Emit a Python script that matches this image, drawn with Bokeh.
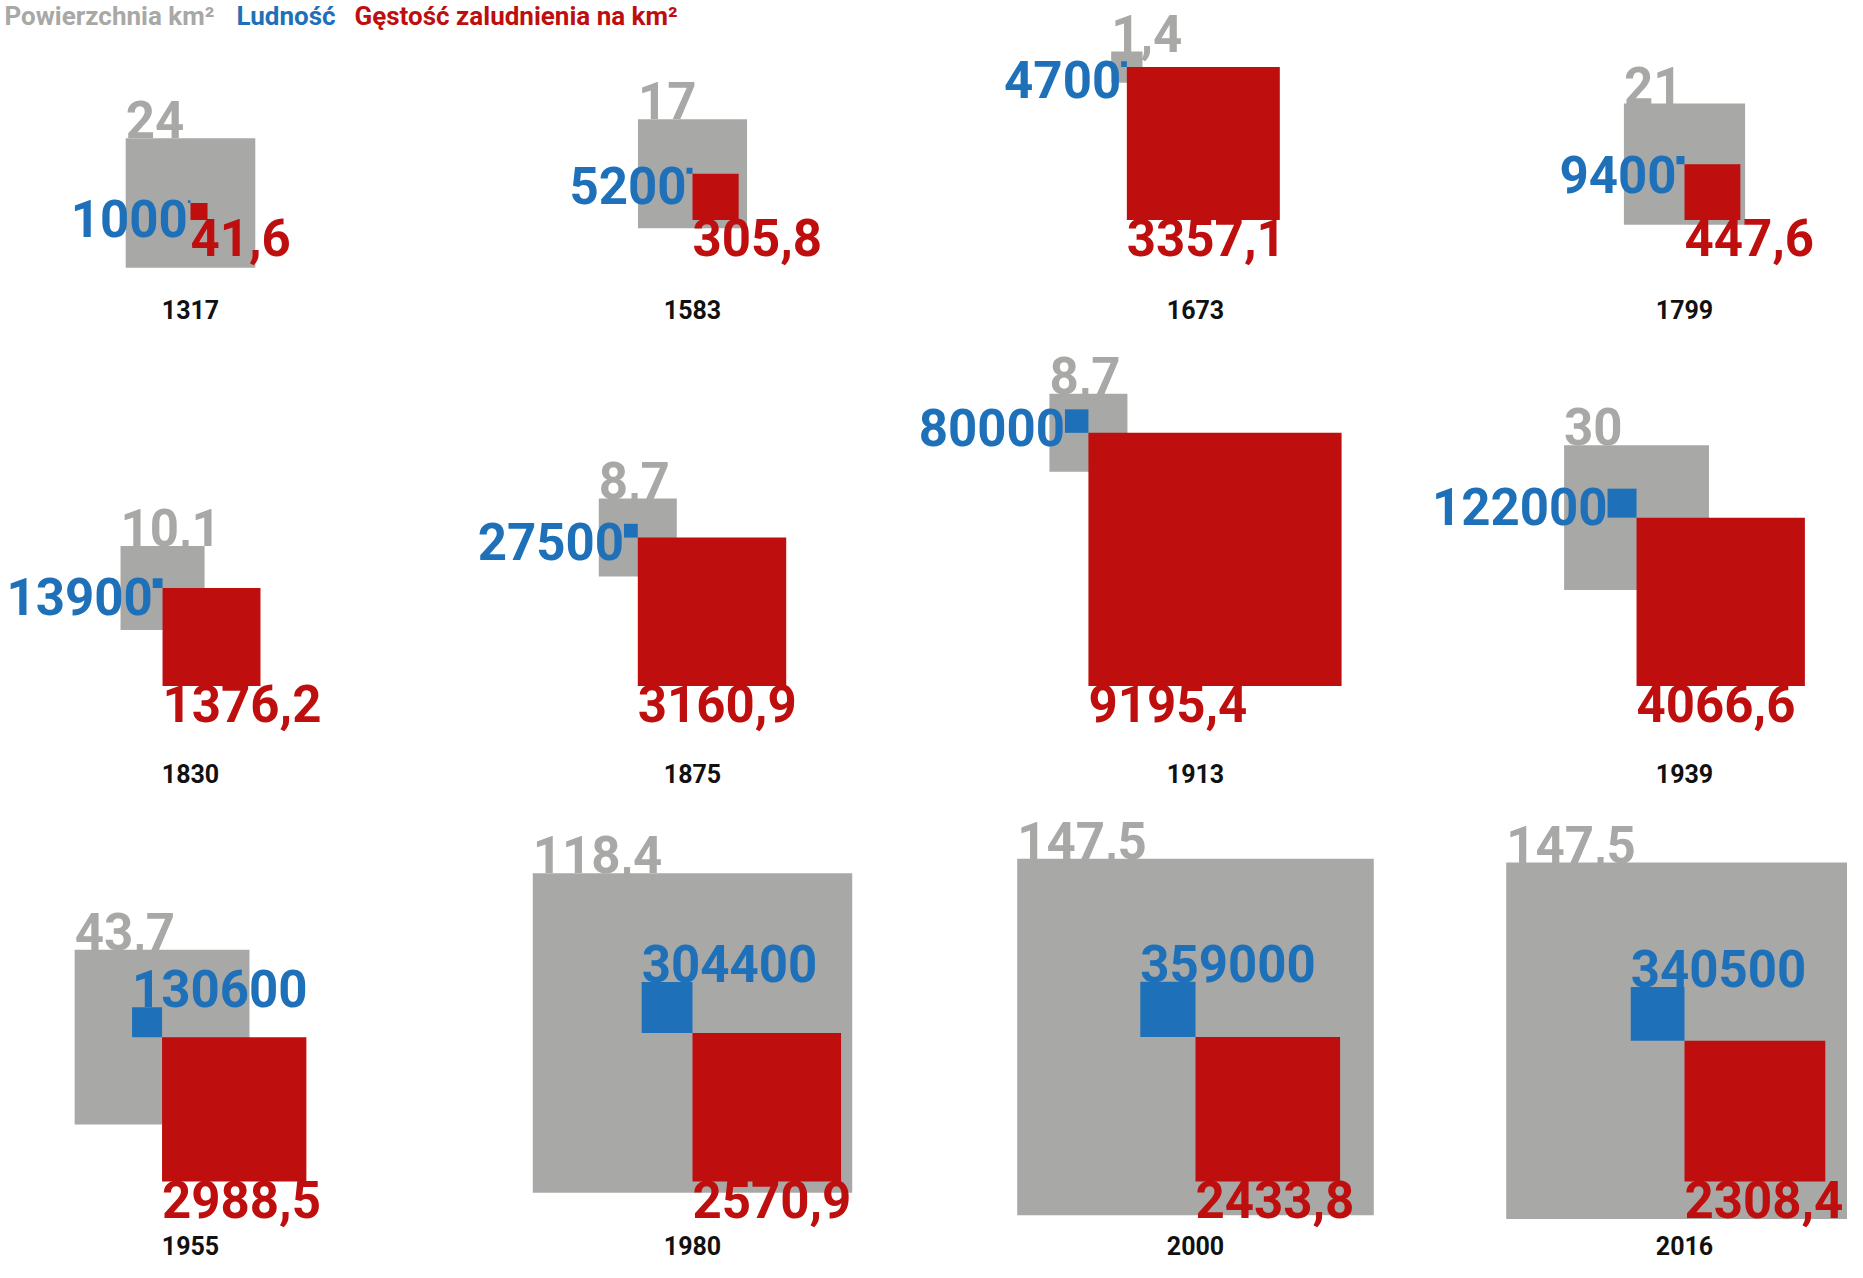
import math
from bokeh.plotting import figure
from bokeh.models import ColumnDataSource, Range1d
from bokeh.core.properties import value
from bokeh.embed import file_html
from bokeh.resources import INLINE

# ---------------- data ----------------
years = ["1317", "1583", "1673", "1799", "1830", "1875", "1913", "1939",
         "1955", "1980", "2000", "2016"]
area_km2 = [24, 17, 1.4, 21, 10.1, 8.7, 8.7, 30, 43.7, 118.4, 147.5, 147.5]
population = [1000, 5200, 4700, 9400, 13900, 27500, 80000, 122000,
              130600, 304400, 359000, 340500]
density = [41.6, 305.8, 3357.1, 447.6, 1376.2, 3160.9, 9195.4, 4066.6,
           2988.5, 2570.9, 2433.8, 2308.4]
area_labels = ["24", "17", "1,4", "21", "10,1", "8,7", "8,7", "30",
               "43,7", "118,4", "147,5", "147,5"]
population_labels = ["1000", "5200", "4700", "9400", "13900", "27500", "80000",
                     "122000", "130600", "304400", "359000", "340500"]
density_labels = ["41,6", "305,8", "3357,1", "447,6", "1376,2", "3160,9",
                  "9195,4", "4066,6", "2988,5", "2570,9", "2433,8", "2308,4"]
legend_labels = ["Powierzchnia km²", "Ludność", "Gęstość zaludnienia na km²"]

# ---------------- styles / layout ----------------
GRAY = "#a8a8a7"
BLUE = "#1e71b9"
RED = "#be0e0e"
BLACK = "#111111"
FONT = "Roboto"
VAL_SIZE = 51
YEAR_SIZE = 25
LEG_SIZE = 26
CAP = 0.711
BASE_FIX = 0.36     # renderer baseline correction (fraction of font size)

K_AREA = 26.45     # px per sqrt(km2)
K_POP = 0.083      # px per sqrt(person)
K_DENS = 2.64      # px per sqrt(person/km2)
panel_scale = [1.0] * 9 + [1.11] * 3
blue_above = [False] * 8 + [True] * 4
col_center = [190, 692, 1195, 1684]
row_base = [219.5, 685.5, 1181]
row_year = [309, 773, 1245]
legend_x = [4, 236, 354]
legend_baseline = 25


def ty(baseline, size):
    return baseline - BASE_FIX * size


# ---------------- geometry from values ----------------
g_l, g_r, g_t, g_b = [], [], [], []
b_l, b_r, b_t, b_b = [], [], [], []
r_l, r_r, r_t, r_b = [], [], [], []
ga_x, ga_y = [], []
bl_x, bl_y, bl_align = [], [], []
rl_x, rl_y = [], []
yr_x, yr_y = [], []

for i in range(len(years)):
    row, col = divmod(i, 4)
    s = panel_scale[i]
    g = K_AREA * s * math.sqrt(area_km2[i])
    b = K_POP * s * math.sqrt(population[i])
    r = K_DENS * s * math.sqrt(density[i])
    left_ext = max(g / 2, b)
    right_ext = max(g / 2, r)
    ax = col_center[col] - (right_ext - left_ext) / 2
    ay = row_base[row] - r

    g_l.append(ax - g / 2); g_r.append(ax + g / 2)
    g_t.append(ay - g / 2); g_b.append(ay + g / 2)
    b_l.append(ax - b); b_r.append(ax); b_t.append(ay - b); b_b.append(ay)
    r_l.append(ax); r_r.append(ax + r); r_t.append(ay); r_b.append(ay + r)

    ga_x.append(ax - g / 2); ga_y.append(ty(ay - g / 2, VAL_SIZE))
    if blue_above[i]:
        bl_x.append(ax - b); bl_y.append(ty(ay - b, VAL_SIZE)); bl_align.append("left")
    else:
        bl_x.append(ax - b); bl_y.append(ty(ay - b + CAP * VAL_SIZE, VAL_SIZE))
        bl_align.append("right")
    rl_x.append(ax); rl_y.append(ty(ay + r + CAP * VAL_SIZE, VAL_SIZE))
    yr_x.append(col_center[col]); yr_y.append(ty(row_year[row] + 0.355 * YEAR_SIZE, YEAR_SIZE))

src = ColumnDataSource(dict(
    g_l=g_l, g_r=g_r, g_t=g_t, g_b=g_b,
    b_l=b_l, b_r=b_r, b_t=b_t, b_b=b_b,
    r_l=r_l, r_r=r_r, r_t=r_t, r_b=r_b,
    ga_x=ga_x, ga_y=ga_y, ga_txt=area_labels,
    bl_x=bl_x, bl_y=bl_y, bl_align=bl_align, bl_txt=population_labels,
    rl_x=rl_x, rl_y=rl_y, rl_txt=density_labels,
    yr_x=yr_x, yr_y=yr_y, yr_txt=years,
))

p = figure(width=1847, height=1262, x_range=Range1d(0, 1847), y_range=Range1d(1262, 0),
           output_backend="svg", toolbar_location=None, min_border=0,
           x_axis_type=None, y_axis_type=None)
p.outline_line_color = None
p.background_fill_color = "white"
p.border_fill_color = "white"

p.quad(left="g_l", right="g_r", top="g_t", bottom="g_b", source=src,
       fill_color=GRAY, line_color=None)
p.text(x="ga_x", y="ga_y", text="ga_txt", source=src, text_color=GRAY,
       text_font=value(FONT), text_font_style="bold", text_font_size=f"{VAL_SIZE}px",
       text_align="left", text_baseline="alphabetic")
p.quad(left="b_l", right="b_r", top="b_t", bottom="b_b", source=src,
       fill_color=BLUE, line_color=None)
p.quad(left="r_l", right="r_r", top="r_t", bottom="r_b", source=src,
       fill_color=RED, line_color=None)
p.text(x="bl_x", y="bl_y", text="bl_txt", source=src, text_color=BLUE,
       text_font=value(FONT), text_font_style="bold", text_font_size=f"{VAL_SIZE}px",
       text_align="bl_align", text_baseline="alphabetic")
p.text(x="rl_x", y="rl_y", text="rl_txt", source=src, text_color=RED,
       text_font=value(FONT), text_font_style="bold", text_font_size=f"{VAL_SIZE}px",
       text_align="left", text_baseline="alphabetic")
p.text(x="yr_x", y="yr_y", text="yr_txt", source=src, text_color=BLACK,
       text_font=value(FONT), text_font_style="bold", text_font_size=f"{YEAR_SIZE}px",
       text_align="center", text_baseline="alphabetic")

# legend row at the top-left
leg_src = ColumnDataSource(dict(
    x=legend_x, y=[ty(legend_baseline, LEG_SIZE)] * 3, text=legend_labels,
    color=[GRAY, BLUE, RED],
))
p.text(x="x", y="y", text="text", source=leg_src, text_color="color",
       text_font=value(FONT), text_font_style="bold", text_font_size=f"{LEG_SIZE}px",
       text_align="left", text_baseline="alphabetic")

open("out.html", "w").write(file_html(p, INLINE))
